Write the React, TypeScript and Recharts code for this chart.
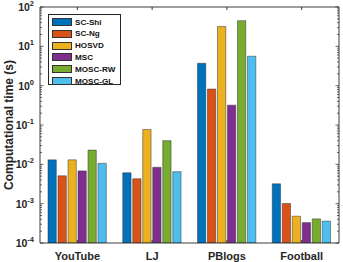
import React from 'react';
import { BarChart, Bar, XAxis, YAxis } from 'recharts';

const categories = ['YouTube', 'LJ', 'PBlogs', 'Football'];
const scShi = [0.013, 0.0061, 3.7, 0.0032];
const scNg = [0.0051, 0.0043, 0.82, 0.00101];
const hosvd = [0.013, 0.077, 32, 0.00048];
const msc = [0.0068, 0.0084, 0.32, 0.00033];
const moscRw = [0.023, 0.04, 45, 0.00041];
const moscGl = [0.0106, 0.0065, 5.6, 0.00036];

const seriesNames = ['SC-Shi', 'SC-Ng', 'HOSVD', 'MSC', 'MOSC-RW', 'MOSC-GL'];
const seriesValues = [scShi, scNg, hosvd, msc, moscRw, moscGl];
const colors = ['#0072BD', '#D95319', '#EDB120', '#7E2F8E', '#77AC30', '#4DBEEE'];

const majorTicks = [1e-4, 1e-3, 1e-2, 1e-1, 1, 10, 100];
const exponents = ['-4', '-3', '-2', '-1', '0', '1', '2'];
const minorMultipliers = [2, 3, 4, 5, 6, 7, 8, 9];

const allTicks: number[] = [];
majorTicks.forEach((m, i) => {
  allTicks.push(m);
  if (i < majorTicks.length - 1) minorMultipliers.forEach((k) => allTicks.push(m * k));
});

const data = categories.map((c, i) => {
  const row: Record<string, any> = { name: c };
  seriesNames.forEach((s, j) => {
    row[s] = seriesValues[j][i];
  });
  return row;
});

const AXIS = '#262626';
const FONT = '"Liberation Sans", Arial, Helvetica, sans-serif';

const isMajor = (v: number) => majorTicks.findIndex((m) => Math.abs(m - v) / m < 1e-9);

const LeftTick = (props: any) => {
  const { x, y, payload } = props;
  const idx = isMajor(payload.value);
  const major = idx >= 0;
  return (
    <g>
      <line x1={x} x2={x + (major ? 3.5 : 2)} y1={y} y2={y} stroke={AXIS} strokeWidth={0.7} />
      {major && (
        <text x={x - 6} y={y + 4} textAnchor="end" fontFamily={FONT} fontWeight="bold" fontSize={10.5} fill={AXIS}>
          10
          <tspan dy={-5} fontSize={7.5}>{exponents[idx]}</tspan>
        </text>
      )}
    </g>
  );
};

const RightTick = (props: any) => {
  const { x, y, payload } = props;
  const major = isMajor(payload.value) >= 0;
  return <line x1={x} x2={x - (major ? 3.5 : 2)} y1={y} y2={y} stroke={AXIS} strokeWidth={0.7} />;
};

const BottomTick = (props: any) => {
  const { x, y, payload } = props;
  return (
    <g>
      <line x1={x} x2={x} y1={y} y2={y - 3} stroke={AXIS} strokeWidth={0.9} />
      <text x={x} y={y + 17} textAnchor="middle" fontFamily={FONT} fontWeight="bold" fontSize={11} fill={AXIS}>
        {payload.value}
      </text>
    </g>
  );
};

const TopTick = (props: any) => {
  const { x, y } = props;
  return <line x1={x} x2={x} y1={y} y2={y + 3} stroke={AXIS} strokeWidth={0.9} />;
};

const YLabel = () => (
  <text
    x={0}
    y={0}
    transform="translate(12.5,125) rotate(-90)"
    textAnchor="middle"
    fontFamily={FONT}
    fontWeight="bold"
    fontSize={12}
    fill={AXIS}
  >
    Computational time (s)
  </text>
);

const LegendBox = () => (
  <div
    style={{
      position: 'absolute',
      left: 48,
      top: 14,
      width: 73,
      height: 71,
      border: `0.8px solid ${AXIS}`,
      background: '#fff',
      boxSizing: 'border-box',
    }}
  >
    {seriesNames.map((s, i) => (
      <div key={s} style={{ position: 'absolute', left: 3, top: 2.5 + i * 11.8, height: 9, display: 'flex', alignItems: 'center' }}>
        <div
          style={{
            width: 20,
            height: 8,
            background: colors[i],
            border: '0.6px solid #333',
            boxSizing: 'border-box',
          }}
        />
        <span
          style={{
            marginLeft: 3,
            fontFamily: FONT,
            fontWeight: 'bold',
            fontSize: 8.1,
            color: '#111',
            lineHeight: '9px',
            whiteSpace: 'nowrap',
          }}
        >
          {s}
        </span>
      </div>
    ))}
  </div>
);

export default function App() {
  return (
    <div style={{ position: 'absolute', left: 0, top: 0, width: 343, height: 262, background: '#fff' }}>
      <BarChart
        width={343}
        height={262}
        data={data}
        margin={{ top: 6, right: 3, bottom: 0, left: 0 }}
        barSize={8.3}
        barGap={1.7}
      >
        <XAxis
          dataKey="name"
          xAxisId={0}
          height={19}
          tickLine={false}
          tickSize={0}
          tickMargin={0}
          axisLine={{ stroke: AXIS, strokeWidth: 0.9 }}
          tick={<BottomTick />}
          interval={0}
        />
        <XAxis
          dataKey="name"
          xAxisId="top"
          orientation="top"
          height={1}
          tickLine={false}
          tickSize={0}
          tickMargin={0}
          axisLine={{ stroke: AXIS, strokeWidth: 0.9 }}
          tick={<TopTick />}
          interval={0}
        />
        <YAxis
          yAxisId={0}
          type="number"
          scale="log"
          domain={[1e-4, 100]}
          allowDataOverflow
          ticks={allTicks}
          interval={0}
          width={40}
          tickLine={false}
          tickSize={0}
          tickMargin={0}
          axisLine={{ stroke: AXIS, strokeWidth: 0.9 }}
          tick={<LeftTick />}
          label={{ content: <YLabel /> }}
        />
        <YAxis
          yAxisId="right"
          orientation="right"
          type="number"
          scale="log"
          domain={[1e-4, 100]}
          allowDataOverflow
          ticks={allTicks}
          interval={0}
          width={1}
          tickLine={false}
          tickSize={0}
          tickMargin={0}
          axisLine={{ stroke: AXIS, strokeWidth: 0.9 }}
          tick={<RightTick />}
        />
        {seriesNames.map((s, i) => (
          <Bar
            key={s}
            dataKey={s}
            name={s}
            xAxisId={0}
            yAxisId={0}
            fill={colors[i]}
            stroke="#333"
            strokeWidth={0.5}
            isAnimationActive={false}
          />
        ))}
      </BarChart>
      <LegendBox />
    </div>
  );
}
